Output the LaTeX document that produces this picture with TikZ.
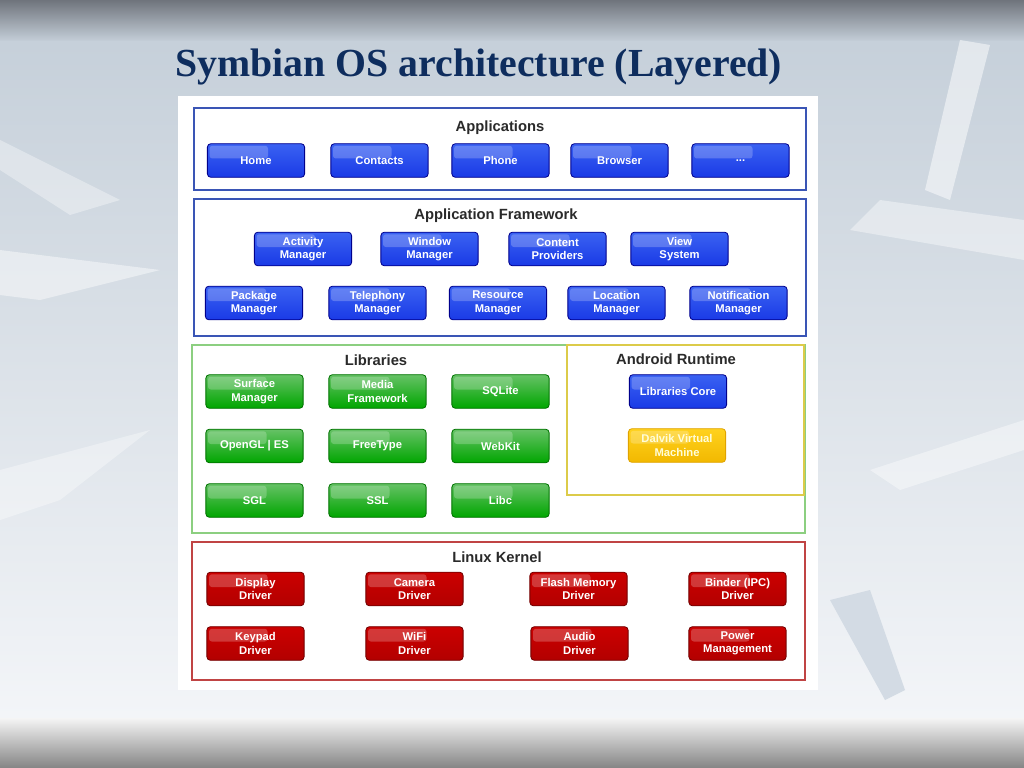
\documentclass[tikz,border=0pt]{standalone}
\usepackage{fontspec}
\setmainfont{Liberation Serif}
\setsansfont{Liberation Sans}
\usepackage{tikz}
\usetikzlibrary{shadings}

\definecolor{titleblue}{HTML}{0E2D5E}
\definecolor{appsblue}{HTML}{3A55B5}
\definecolor{libgreen}{HTML}{8CCF80}
\definecolor{rtyellow}{HTML}{DCCB4A}
\definecolor{kernred}{HTML}{C04444}
\definecolor{layertext}{HTML}{2A2A2A}
\definecolor{bandgray}{HTML}{6F747C}
\definecolor{bgtop}{HTML}{C6D0DA}
\definecolor{bgbot}{HTML}{F3F5F8}
\definecolor{bgshape}{HTML}{D3DBE4}
\definecolor{btnblue}{HTML}{1A3AE6}
\definecolor{btnbluetop}{HTML}{3A62F2}
\definecolor{btngold}{HTML}{F2B800}
\definecolor{btngoldtop}{HTML}{FFD21E}

\begin{document}
\begin{tikzpicture}[x=0.025cm,y=-0.025cm]
 \tikzstyle{btn} = [rounded corners=2.5pt,minimum width=2.43cm,minimum height=0.84cm,
   align=center,inner sep=1pt,text=white,font=\sffamily\bfseries\fontsize{8}{9.6}\selectfont,
   line width=0.6pt,
   path picture={\fill[white,opacity=0.22,rounded corners=2pt]
     ([xshift=1.5pt,yshift=-1.5pt]path picture bounding box.north west)
     rectangle ([xshift=0.3cm,yshift=0.05cm]path picture bounding box.center);}]
 \tikzstyle{bluebtn} = [btn,draw=blue!55!black,top color=btnbluetop,bottom color=btnblue]
 \tikzstyle{greenbtn} = [btn,draw=green!45!black,top color=green!60!black!60!white,bottom color=green!65!black]
 \tikzstyle{yellowbtn} = [btn,draw=orange!80!black!60!yellow,top color=btngoldtop,bottom color=btngold,text=white!85!yellow]
 \tikzstyle{redbtn} = [btn,draw=red!45!black,top color=red!80!black,bottom color=red!70!black]
 \tikzstyle{layertitle} = [text=layertext,font=\sffamily\bfseries\fontsize{10.5}{12}\selectfont]
 \tikzstyle{frame} = [line width=1.1pt]

% Slide background
 \useasboundingbox (0,0) rectangle (1024,768);
 \shade[top color=bandgray,bottom color=bgtop] (0,0) rectangle (1024,42);
 \shade[top color=bgtop,bottom color=bgbot] (0,42) rectangle (1024,718);
 \shade[top color=white!96!black,bottom color=black!48] (0,718) rectangle (1024,768);
 \fill[white,opacity=0.45] (0,250) -- (160,270) -- (40,300) -- (0,295) -- cycle;
 \fill[white,opacity=0.35] (0,140) -- (120,200) -- (70,215) -- (0,170) -- cycle;
 \fill[white,opacity=0.35] (0,470) -- (150,430) -- (60,500) -- (0,520) -- cycle;
 \fill[white,opacity=0.4] (1024,220) -- (880,200) -- (850,230) -- (1024,260) -- cycle;
 \fill[white,opacity=0.4] (1024,420) -- (870,470) -- (900,490) -- (1024,450) -- cycle;
 \fill[bgshape] (830,600) -- (870,590) -- (905,690) -- (885,700) -- cycle;
 \fill[white,opacity=0.5] (960,40) -- (990,45) -- (950,200) -- (925,190) -- cycle;

% Title
 \node[anchor=base west,text=titleblue,font=\bfseries\fontsize{28.3}{30}\selectfont,inner sep=0]
   (title) at (175,77) {Symbian OS architecture (Layered)};

% White panel
 \fill[white] (178,96) rectangle (818,690);

% Applications
 \draw[frame,appsblue] (194,108) rectangle (806,190);
 \node[layertitle] (apps) at (500,128) {Applications};
 \node[bluebtn] (home) at (256,160.5) {Home};
 \node[bluebtn] (contacts) at (379.5,160.5) {Contacts};
 \node[bluebtn] (phone) at (500.5,160.5) {Phone};
 \node[bluebtn] (browser) at (619.5,160.5) {Browser};
 \node[bluebtn] (more) at (740.5,160.5) {...};

% Application Framework
 \draw[frame,appsblue] (194,199) rectangle (806,336);
 \node[layertitle] (framework) at (496,216) {Application Framework};
 \node[bluebtn] (activity) at (303,249) {Activity\\Manager};
 \node[bluebtn] (window) at (429.5,249) {Window\\Manager};
 \node[bluebtn] (content) at (557.5,249) {Content\\Providers};
 \node[bluebtn] (view) at (679.5,249) {View\\System};
 \node[bluebtn] (package) at (254,303) {Package\\Manager};
 \node[bluebtn] (telephony) at (377.5,303) {Telephony\\Manager};
 \node[bluebtn] (resource) at (498,303) {Resource\\Manager};
 \node[bluebtn] (location) at (616.5,303) {Location\\Manager};
 \node[bluebtn] (notification) at (738.5,303) {Notification\\Manager};

% Libraries
 \draw[frame,libgreen] (192,345) rectangle (805,533);
 \node[layertitle] (libraries) at (376,360) {Libraries};
 \node[greenbtn] (surface) at (254.5,391.5) {Surface\\Manager};
 \node[greenbtn] (media) at (377.5,391.5) {Media\\Framework};
 \node[greenbtn] (sqlite) at (500.5,391.5) {SQLite};
 \node[greenbtn] (opengl) at (254.5,446) {OpenGL | ES};
 \node[greenbtn] (freetype) at (377.5,446) {FreeType};
 \node[greenbtn] (webkit) at (500.5,446) {WebKit};
 \node[greenbtn] (sgl) at (254.5,500.5) {SGL};
 \node[greenbtn] (ssl) at (377.5,500.5) {SSL};
 \node[greenbtn] (libc) at (500.5,500.5) {Libc};

% Android Runtime
 \draw[frame,rtyellow] (567,345) rectangle (804,495);
 \node[layertitle] (runtime) at (676,359) {Android Runtime};
 \node[bluebtn] (core) at (678,391.5) {Libraries Core};
 \node[yellowbtn] (dalvik) at (677,445.5) {Dalvik Virtual\\Machine};

% Linux Kernel
 \draw[frame,kernred] (192,542) rectangle (805,680);
 \node[layertitle] (kernel) at (497,557) {Linux Kernel};
 \node[redbtn] (display) at (255.5,589) {Display\\Driver};
 \node[redbtn] (camera) at (414.5,589) {Camera\\Driver};
 \node[redbtn] (flash) at (578.5,589) {Flash Memory\\Driver};
 \node[redbtn] (binder) at (737.5,589) {Binder (IPC)\\Driver};
 \node[redbtn] (keypad) at (255.5,643.5) {Keypad\\Driver};
 \node[redbtn] (wifi) at (414.5,643.5) {WiFi\\Driver};
 \node[redbtn] (audio) at (579.5,643.5) {Audio\\Driver};
 \node[redbtn] (power) at (737.5,643.5) {Power\\Management};
\end{tikzpicture}
\end{document}
